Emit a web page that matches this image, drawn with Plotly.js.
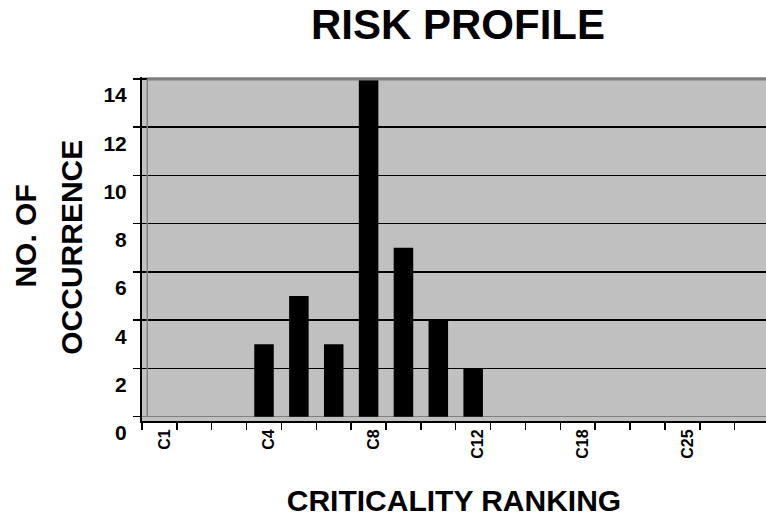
<!DOCTYPE html>
<html>
<head>
<meta charset="utf-8">
<script src="https://cdn.plot.ly/plotly-3.0.1.min.js"></script>
<style>html,body{margin:0;padding:0;background:#fff;}#chart{width:766px;height:518px;}</style>
</head>
<body>
<div id="chart"></div>
<script>
// Data
const categories = ['C1','C2','C3','C4','C5','C6','C8','C9','C10','C12','C15','C16','C18','C20','C24','C25','C30','C36'];
const occurrences = [0,0,0,3,5,3,14,7,4,2,0,0,0,0,0,0,0,0];
const labelStep = 3;
const tickText = categories.map((c, i) => (i % labelStep === 0 ? c : ''));
const yTicks = [0,2,4,6,8,10,12,14];

const FONT = 'Liberation Sans, Arial, sans-serif';

const trace = {
  type: 'bar',
  x: categories,
  y: occurrences,
  marker: {color: '#000000'},
  hoverinfo: 'x+y'
};

const layout = {
  width: 766,
  height: 518,
  margin: {l: 142, r: 0, t: 77, b: 97},
  paper_bgcolor: '#ffffff',
  plot_bgcolor: '#c0c0c0',
  showlegend: false,
  bargap: 0.44,
  font: {family: FONT, color: '#000000'},
  title: {
    text: '<b>RISK PROFILE</b>',
    font: {family: FONT, size: 42, color: '#000000'},
    xref: 'container', x: 458 / 766, xanchor: 'center',
    yref: 'container', y: 1 - 24.5 / 518, yanchor: 'middle'
  },
  xaxis: {
    type: 'category',
    categoryorder: 'array',
    categoryarray: categories,
    range: [-0.5, 17.4],
    tickmode: 'array',
    tickvals: categories,
    ticktext: tickText,
    tickson: 'boundaries',
    ticks: 'outside',
    ticklen: 7,
    tickwidth: 1.5,
    tickcolor: '#000000',
    tickangle: -90,
    ticklabelshift: 5,
    tickfont: {family: FONT, size: 16, color: '#000000', weight: 'bold'},
    showline: true,
    linecolor: '#000000',
    linewidth: 2,
    showgrid: false,
    zeroline: false,
    title: {
      text: '<b>CRITICALITY RANKING</b>',
      font: {family: FONT, size: 30, color: '#000000'},
      standoff: 32
    }
  },
  yaxis: {
    range: [-0.178, 14.08],
    tickmode: 'array',
    tickvals: yTicks,
    ticks: 'outside',
    ticklen: 7,
    tickwidth: 1.5,
    tickcolor: '#000000',
    ticklabelshift: 16,
    ticklabelstandoff: 2,
    tickfont: {family: FONT, size: 21, color: '#000000', weight: 'bold'},
    showline: true,
    linecolor: '#000000',
    linewidth: 2,
    showgrid: true,
    gridcolor: '#000000',
    gridwidth: 1.5,
    zeroline: true,
    zerolinecolor: '#808080',
    zerolinewidth: 1.5
  },
  shapes: [
    // back wall left edge
    {type: 'line', xref: 'paper', yref: 'y', x0: 0.0085, x1: 0.0085, y0: 0, y1: 14,
     line: {color: '#808080', width: 1.5}, layer: 'above'},
    // back wall top edge
    {type: 'line', xref: 'paper', yref: 'y', x0: 0.0085, x1: 1, y0: 14, y1: 14,
     line: {color: '#808080', width: 3}, layer: 'above'}
  ],
  annotations: [
    {text: '<b>NO. OF</b>', xref: 'paper', yref: 'paper', x: -0.187, y: 0.537,
     xanchor: 'center', yanchor: 'middle', textangle: -90, showarrow: false,
     font: {family: FONT, size: 30, color: '#000000'}},
    {text: '<b>OCCURRENCE</b>', xref: 'paper', yref: 'paper', x: -0.113, y: 0.505,
     xanchor: 'center', yanchor: 'middle', textangle: -90, showarrow: false,
     font: {family: FONT, size: 30, color: '#000000'}}
  ]
};

Plotly.newPlot('chart', [trace], layout, {displayModeBar: false, staticPlot: true});
</script>
</body>
</html>
